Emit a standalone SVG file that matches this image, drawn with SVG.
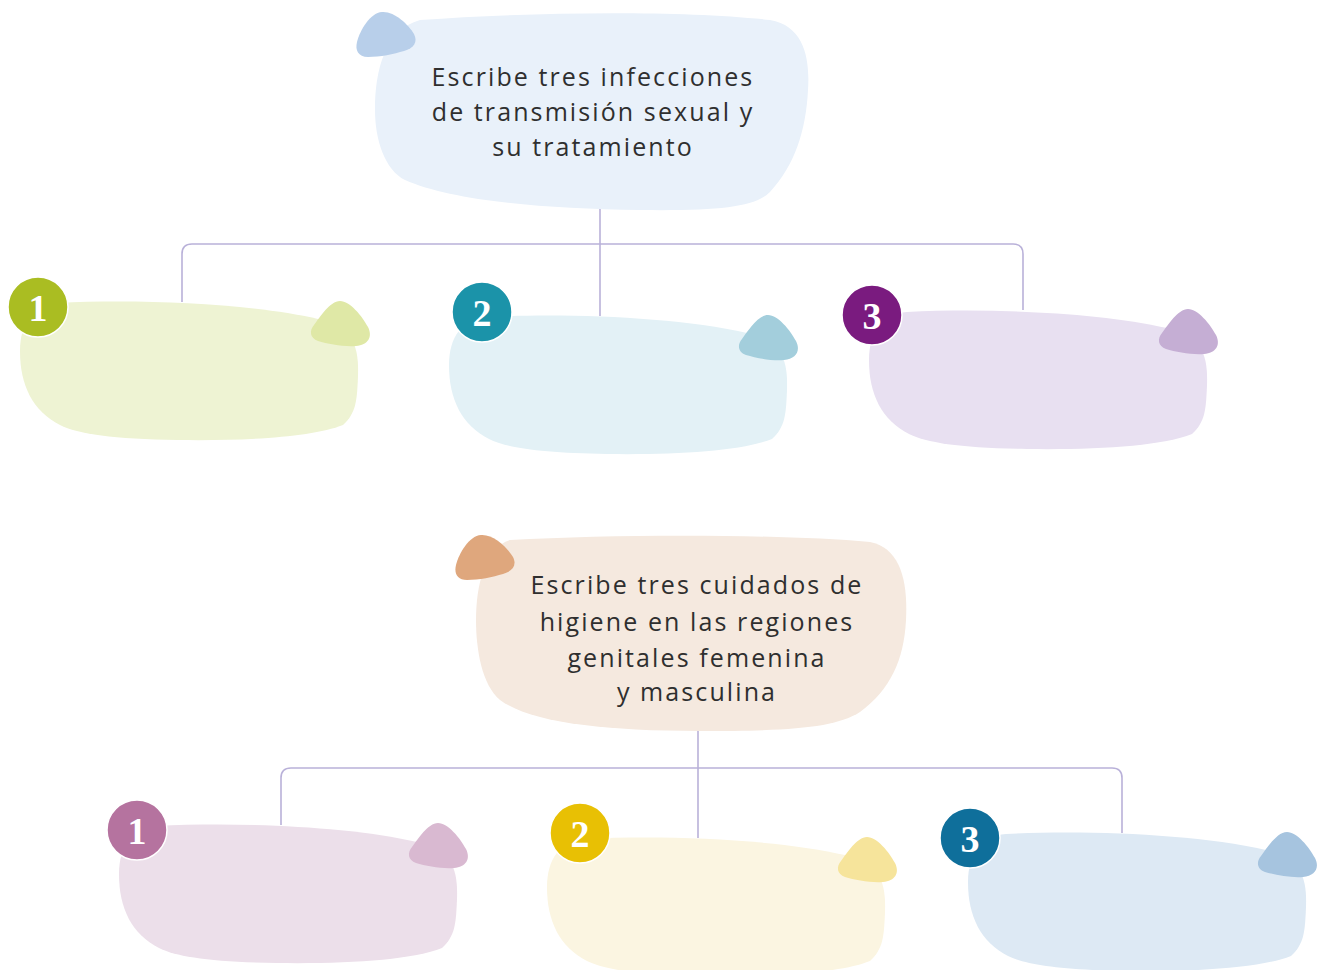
<svg xmlns="http://www.w3.org/2000/svg" xmlns:xlink="http://www.w3.org/1999/xlink" width="1324" height="970" viewBox="0 0 1324 970">
<style>
.conn{fill:none;stroke:#b9b1d9;stroke-width:1.6}
.title{font-family:"Open Sans","DejaVu Sans",sans-serif;font-size:25px;fill:#2f2f2f;text-anchor:middle;letter-spacing:2.1px}
.num{font-family:"Liberation Serif","DejaVu Serif",serif;font-weight:bold;font-size:38px;fill:#fff;text-anchor:middle}
.badge{stroke:#fff;stroke-width:1.5}
</style>
<defs>
<path id="blob" d="M40 2 C120 -2 230 2 300 18 C335 26 341 45 340 75 C339 100 338 112 325 124 C295 136 230 140 160 139 C95 138 60 133 42 124 C15 110 2 85 2 50 C2 22 15 4 40 2 Z"/>
<path id="acc" d="M30 0 C40 0 52 15 58 26 C63 36 58 44 46 45 C34 46 18 43 8 40 C0 37 -1 30 4 24 C10 16 20 0 30 0 Z"/>
<path id="tacc" d="M26 0 C38 -1 52 12 58 22 C62 30 58 36 48 39 C38 42 24 45 12 45 C2 45 -1 38 1 30 C4 18 14 1 26 0 Z"/>
</defs>
<rect width="1324" height="970" fill="#fff"/>
<g id="connectors">
<path class="conn" d="M600 205 V316"/>
<path class="conn" d="M182 302 V254 Q182 244 192 244 H1013 Q1023 244 1023 254 V310"/>
<path class="conn" d="M698 728 V838"/>
<path class="conn" d="M281 825 V778 Q281 768 291 768 H1112 Q1122 768 1122 778 V833"/>
</g>
<g id="title1">
<path d="M420 20 C530 12 680 10 770 20 C805 26 810 60 808 90 C806 130 795 165 770 192 C755 207 720 211 640 210 C540 209 450 200 405 180 C385 170 375 140 375 110 C375 70 385 30 420 20 Z" fill="#e9f1fa"/>
<use xlink:href="#tacc" x="356" y="12" fill="#b8cfea"/>
<text class="title" x="593" y="86">Escribe tres infecciones</text>
<text class="title" x="593" y="121">de transmisión sexual y</text>
<text class="title" x="593" y="156">su tratamiento</text>
</g>
<g id="t1">
<use xlink:href="#blob" x="18" y="301" fill="#eef3d3"/>
<use xlink:href="#acc" x="310" y="301" fill="#dfe8a6"/>
<circle class="badge" cx="38" cy="307" r="30" fill="#aabd22"/>
<text class="num" x="38" y="321">1</text>
</g>
<g id="t2">
<use xlink:href="#blob" x="447" y="315" fill="#e3f1f6"/>
<use xlink:href="#acc" x="738" y="315" fill="#a3cedc"/>
<circle class="badge" cx="482" cy="312" r="30" fill="#1b93a9"/>
<text class="num" x="482" y="326">2</text>
</g>
<g id="t3">
<use xlink:href="#blob" x="867" y="310" fill="#e8e0f1"/>
<use xlink:href="#acc" x="1158" y="309" fill="#c5aed4"/>
<circle class="badge" cx="872" cy="315" r="30" fill="#7a1b7f"/>
<text class="num" x="872" y="329">3</text>
</g>
<g id="title2">
<path d="M510 540 C620 534 780 534 870 542 C900 548 908 580 906 620 C904 660 890 690 860 712 C835 728 790 731 700 731 C600 731 530 722 500 700 C482 685 476 650 476 620 C476 585 485 548 510 540 Z" fill="#f5e9df"/>
<use xlink:href="#tacc" x="455" y="535" fill="#dfa77d"/>
<text class="title" x="697" y="594">Escribe tres cuidados de</text>
<text class="title" x="697" y="631">higiene en las regiones</text>
<text class="title" x="697" y="667">genitales femenina</text>
<text class="title" x="697" y="701">y masculina</text>
</g>
<g id="b1">
<use xlink:href="#blob" x="117" y="824" fill="#ecdfea"/>
<use xlink:href="#acc" x="408" y="823" fill="#d9b9d1"/>
<circle class="badge" cx="137" cy="830" r="30" fill="#b5739f"/>
<text class="num" x="137" y="844">1</text>
</g>
<g id="b2">
<use xlink:href="#blob" x="545" y="837" fill="#fbf5e1"/>
<use xlink:href="#acc" x="837" y="837" fill="#f6e49b"/>
<circle class="badge" cx="580" cy="833" r="30" fill="#e8c004"/>
<text class="num" x="580" y="847">2</text>
</g>
<g id="b3">
<use xlink:href="#blob" x="966" y="832" fill="#dde9f4"/>
<use xlink:href="#acc" x="1257" y="832" fill="#a6c4df"/>
<circle class="badge" cx="970" cy="838" r="30" fill="#0f6f9b"/>
<text class="num" x="970" y="852">3</text>
</g>
</svg>
